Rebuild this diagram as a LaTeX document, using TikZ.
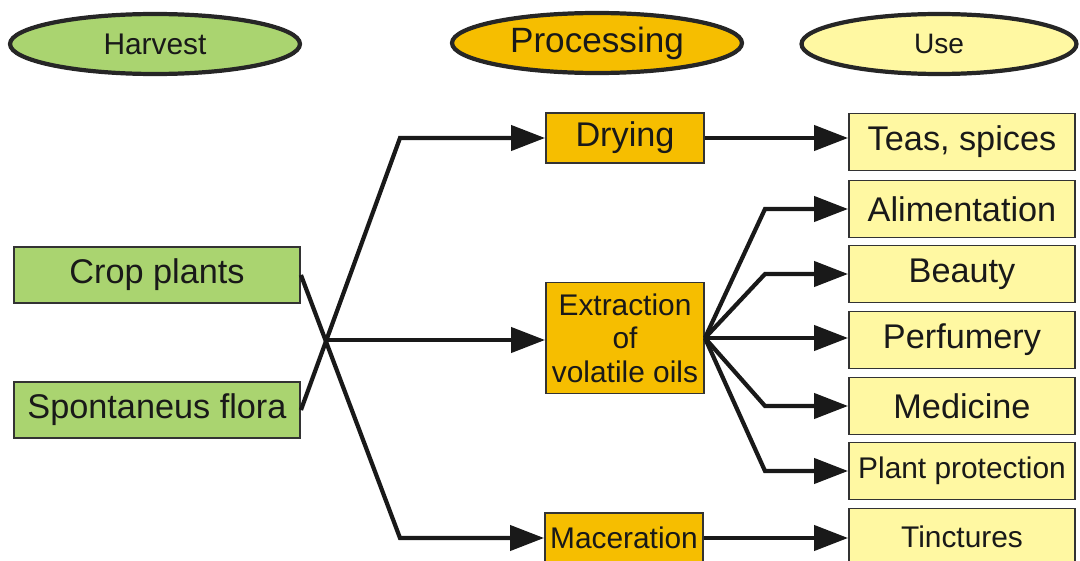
\documentclass[tikz,border=0pt]{standalone}
\usepackage{fontspec}
\setmainfont{Liberation Sans}
\usepackage{xcolor}
\usepackage{tikz}
\usetikzlibrary{shapes.geometric, arrows.meta, positioning}

\definecolor{harvestgreen}{RGB}{170,212,112}
\definecolor{processorange}{RGB}{246,190,0}
\definecolor{useyellow}{RGB}{255,248,162}

\begin{document}
\begin{tikzpicture}[
  x=0.02cm, y=-0.02cm,
  every node/.style={align=center, inner sep=1pt, text=black!90},
  phase/.style   ={ellipse, draw=black!85, line width=2.4pt, minimum height=1.2cm, minimum width=5.8cm},
  harvest/.style ={rectangle, draw=black!80, line width=1.1pt, fill=harvestgreen, minimum height=1.12cm, minimum width=5.72cm, font=\fontsize{19.5}{22}\selectfont},
  process/.style ={rectangle, draw=black!80, line width=1.1pt, fill=processorange, minimum height=1.0cm, minimum width=3.16cm, font=\fontsize{17}{19}\selectfont},
  usage/.style   ={rectangle, draw=black!80, line width=1.1pt, fill=useyellow, minimum height=1.14cm, minimum width=4.52cm, font=\fontsize{19.5}{22}\selectfont},
  arr/.style     ={-{Triangle[length=0.68cm, width=0.5cm]}, draw=black!90, line width=2.4pt}
]
\useasboundingbox (0,0) rectangle (1080,561);

% Header row: the three phases
\node[phase, fill=harvestgreen, font=\fontsize{17}{19}\selectfont]   (hdharvest) at (155,44) {Harvest};
\node[phase, fill=processorange, font=\fontsize{20}{22}\selectfont] (hdprocess) at (597,43) {Processing};
\node[phase, fill=useyellow, minimum width=5.5cm, font=\fontsize{16}{18}\selectfont] (hduse) at (939,44) {Use};

% Col 1: sources
\node[harvest] (crop)  at (157,275) {Crop plants};
\node[harvest] (spont) at (157,410) {Spontaneus flora};

% Col 2: processing
\node[process, font=\fontsize{19.5}{22}\selectfont] (dry) at (625,138) {Drying};
\node[process, minimum height=2.22cm] (extract) at (625,338) {Extraction\\of\\volatile oils};
\node[process] (macer) at (624,538) {Maceration};

% Col 3: uses, one under the other
\node[usage] (teas)    at (962,142) {Teas, spices};
\node[usage] (alim)    at (962,209) {Alimentation};
\node[usage] (beauty)  at (962,274) {Beauty};
\node[usage] (perfume) at (962,340) {Perfumery};
\node[usage] (medic)   at (962,406) {Medicine};
\node[usage, font=\fontsize{17}{19}\selectfont] (protect) at (962,471) {Plant protection};
\node[usage, font=\fontsize{17}{19}\selectfont] (tinct)   at (962,537) {Tinctures};

% Crossing point of the two source lines, and the bend columns
\coordinate (fork) at (326,340);
\coordinate (bendl) at (400,0);
\coordinate (bendr) at (765,0);

% Edges
\draw[arr] (spont.east) -- (dry.west -| bendl) -- (dry.west);
\draw[arr] (crop.east)  -- (macer.west -| bendl) -- (macer.west);
\draw[arr] (fork) -- (fork -| extract.west);

\draw[arr] (dry.east)   -- (dry.east -| teas.west);
\draw[arr] (macer.east) -- (macer.east -| tinct.west);

% Fan-out of the volatile oils
\draw[arr] (extract.east) -- (alim.west -| bendr)    -- (alim.west);
\draw[arr] (extract.east) -- (beauty.west -| bendr)  -- (beauty.west);
\draw[arr] (extract.east) -- (extract.east -| perfume.west);
\draw[arr] (extract.east) -- (medic.west -| bendr)   -- (medic.west);
\draw[arr] (extract.east) -- (protect.west -| bendr) -- (protect.west);
\end{tikzpicture}
\end{document}
